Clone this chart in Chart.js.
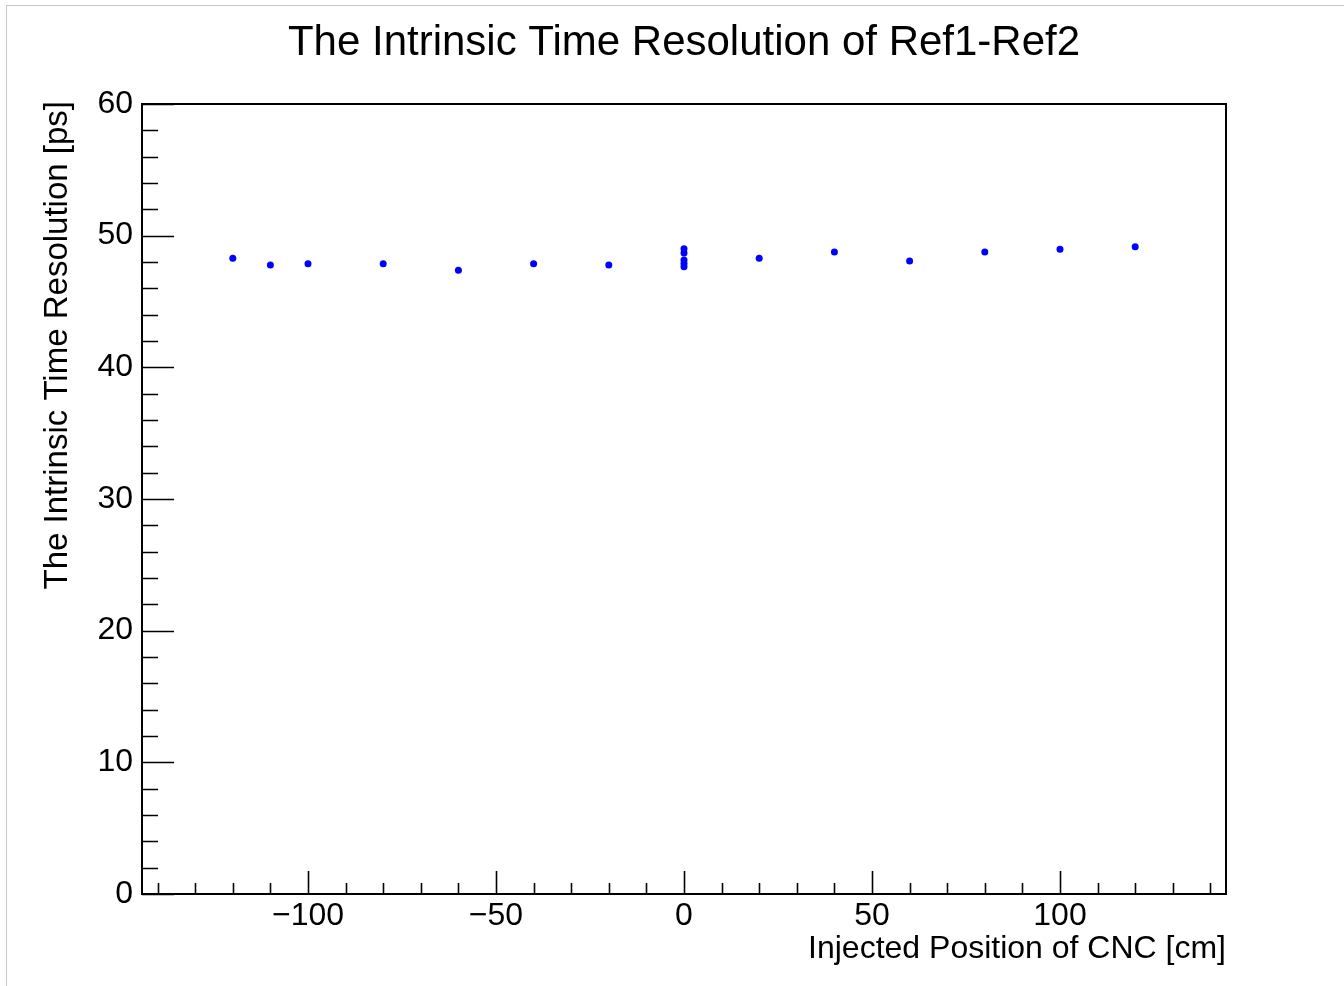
<!DOCTYPE html>
<html>
<head>
<meta charset="utf-8">
<title>Intrinsic Time Resolution</title>
<script src="https://cdn.jsdelivr.net/npm/chart.js@4/dist/chart.umd.min.js"></script>
<style>
  html, body { margin: 0; padding: 0; background: #fff; }
  #wrap { position: relative; width: 1344px; height: 986px; }
  #frame { position: absolute; left: 6px; top: 5px; right: 0; bottom: 0; border-top: 1px solid #c8c8c8; border-left: 1px solid #c8c8c8; }
  canvas { position: absolute; left: 0; top: 0; }
</style>
</head>
<body>
<div id="wrap">
  <div id="frame"></div>
  <canvas id="resCanvas" width="1344" height="986"></canvas>
</div>
<script>
// injected position (cm) and measured intrinsic resolution (ps)
const positions = [-120, -110, -100, -80, -60, -40, -20, 0, 0, 0, 0, 0, 20, 40, 60, 80, 100, 120];
const resolutions = [48.28, 47.77, 47.87, 47.87, 47.37, 47.87, 47.77, 49.0, 48.68, 48.15, 47.89, 47.63, 48.28, 48.76, 48.07, 48.76, 48.96, 49.16];

const xTicks = [-100, -50, 0, 50, 100];
const yTicks = [0, 10, 20, 30, 40, 50, 60];

const chartTitle = 'The Intrinsic Time Resolution of Ref1-Ref2';
const xTitle = 'Injected Position of CNC [cm]';
const yTitle = 'The Intrinsic Time Resolution [ps]';

const FONT = '"Liberation Sans", Arial, Helvetica, sans-serif';

// ROOT-like frame: inward ticks on bottom and left, plus titles
const rootFrame = {
    id: 'rootFrame',
    afterDraw(chart) {
        const { ctx, chartArea: a, scales: { x, y } } = chart;
        ctx.save();
        ctx.strokeStyle = '#000';
        ctx.lineWidth = 2;
        ctx.strokeRect(a.left, a.top, a.right - a.left, a.bottom - a.top);

        ctx.lineWidth = 1.6;
        ctx.beginPath();
        for (let v = -140; v <= 140; v += 10) {
            const px = Math.round(x.getPixelForValue(v)) + 0.5;
            const len = v % 50 === 0 ? 23 : 11;
            ctx.moveTo(px, a.bottom);
            ctx.lineTo(px, a.bottom - len);
        }
        for (let v = 0; v <= 60; v += 2) {
            const py = Math.round(y.getPixelForValue(v)) + 0.5;
            const len = v % 10 === 0 ? 32 : 16;
            ctx.moveTo(a.left, py);
            ctx.lineTo(a.left + len, py);
        }
        ctx.stroke();

        ctx.fillStyle = '#000';
        ctx.textBaseline = 'alphabetic';
        ctx.font = '42px ' + FONT;
        ctx.textAlign = 'center';
        ctx.fillText(chartTitle, (a.left + a.right) / 2, 55);

        ctx.font = '32px ' + FONT;
        ctx.textAlign = 'right';
        ctx.fillText(xTitle, a.right, 958);

        ctx.font = '33px ' + FONT;
        ctx.translate(67, 101);
        ctx.rotate(-Math.PI / 2);
        ctx.fillText(yTitle, 0, 0);
        ctx.restore();
    }
};

const fmt = v => (v < 0 ? '\u2212' + Math.abs(v) : String(v));

new Chart(document.getElementById('resCanvas').getContext('2d'), {
    type: 'scatter',
    data: {
        datasets: [{
            data: positions.map((p, i) => ({ x: p, y: resolutions[i] })),
            backgroundColor: '#0000ff',
            borderWidth: 0,
            pointRadius: 3.5,
            pointHoverRadius: 3.5
        }]
    },
    options: {
        responsive: false,
        animation: false,
        layout: { padding: { top: 104, right: 118, left: 0, bottom: 0 } },
        plugins: { legend: { display: false }, tooltip: { enabled: false }, title: { display: false } },
        scales: {
            x: {
                type: 'linear', min: -144.15, max: 144.15,
                grid: { display: false, drawTicks: false },
                border: { display: false },
                afterBuildTicks: s => { s.ticks = xTicks.map(v => ({ value: v })); },
                afterFit: s => { s.height = 92; },
                ticks: { color: '#000', font: { family: FONT, size: 32 }, padding: 3, maxRotation: 0, autoSkip: false, callback: fmt }
            },
            y: {
                type: 'linear', min: 0, max: 60,
                grid: { display: false, drawTicks: false },
                border: { display: false },
                afterBuildTicks: s => { s.ticks = yTicks.map(v => ({ value: v })); },
                afterFit: s => { s.width = 142; },
                ticks: { color: '#000', font: { family: FONT, size: 32 }, padding: 9, autoSkip: false, callback: fmt }
            }
        }
    },
    plugins: [rootFrame]
});
</script>
</body>
</html>
